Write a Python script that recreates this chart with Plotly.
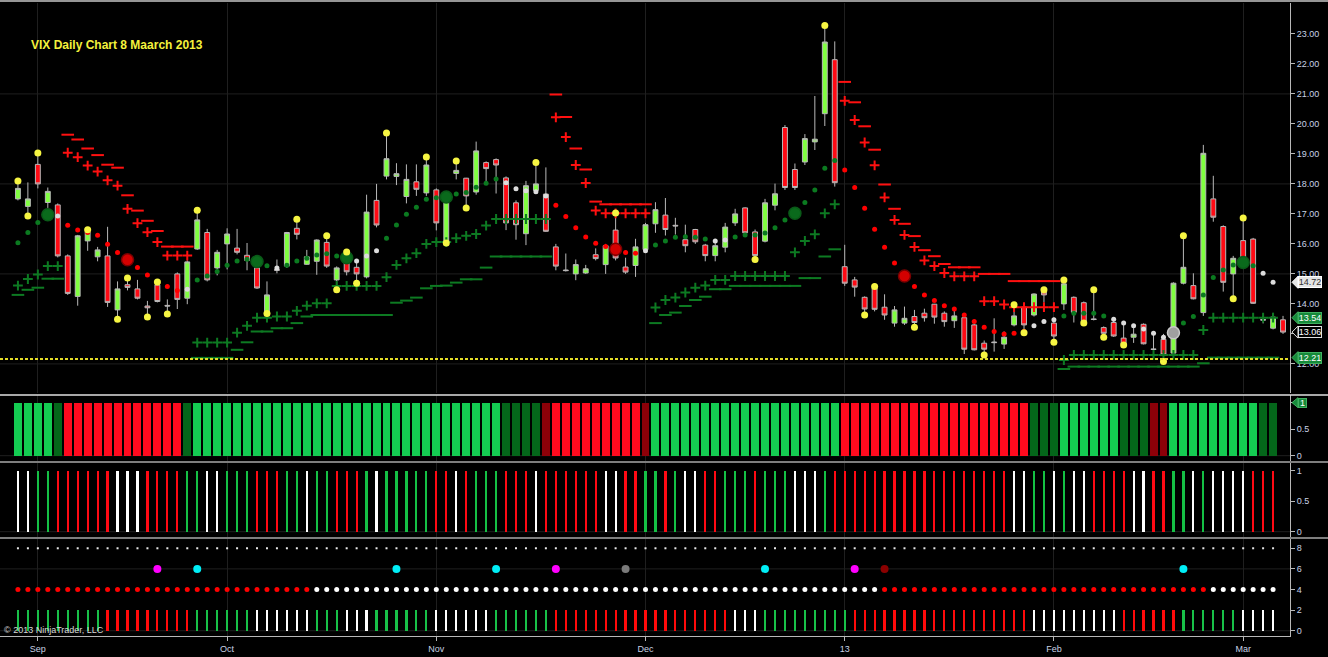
import plotly.graph_objects as go

N = None

# ---------------- axis / text data ----------------
tick_idx = [2, 21, 42, 63, 83, 104, 123]
tick_text = ["Sep", "Oct", "Nov", "Dec", "13", "Feb", "Mar"]
price_ticks = [12, 13, 14, 15, 16, 17, 18, 19, 20, 21, 22, 23]
price_tick_text = ["12.00", "13.00", "14.00", "15.00", "16.00", "17.00",
                   "18.00", "19.00", "20.00", "21.00", "22.00", "23.00"]
price_grid = [12, 15, 18, 21]
title_text = "VIX Daily Chart 8 Maarch 2013"
copyright_text = "© 2013 NinjaTrader, LLC"
support_level = 12.16

# ---------------- candles (128 bars) ----------------
open_ = [17.5, 17.25, 18.65, 17.38, 17.3, 15.6, 14.25, 16.1, 15.57, 15.6,
         13.8, 14.64, 14.5, 13.93, 14.63, 13.95, 15.0, 14.19, 15.83, 16.38,
         15.2, 16.0, 15.86, 15.62, 15.2, 13.68, 15.15, 15.26, 16.52, 15.32,
         15.42, 16.05, 14.8, 15.45, 15.22, 14.9, 17.45, 18.26, 18.25, 17.58,
         18.07, 17.7, 17.8, 16.09, 18.35, 18.19, 17.73, 18.71, 18.81, 18.2,
         17.37, 16.34, 17.78, 17.66, 15.9, 15.13, 15.0, 15.03, 15.64, 15.31,
         16.46, 15.23, 15.28, 15.81, 16.67, 16.96, 16.62, 16.14, 16.48, 15.96,
         15.61, 15.89, 16.7, 17.2, 16.4, 16.09, 17.29, 19.88, 18.48, 18.73,
         19.4, 20.34, 22.14, 15.24, 14.8, 14.22, 14.52, 13.89, 13.36, 13.36,
         13.58, 13.69, 13.99, 13.69, 13.44, 13.54, 13.3, 12.69, 12.73, 12.66,
         13.3, 13.89, 13.63, 14.41, 13.36, 14.0, 14.22, 14.04, 13.5, 13.21,
         13.38, 12.86, 12.89, 13.32, 12.5, 12.82, 12.36, 14.69, 14.61, 13.71,
         17.5, 16.58, 15.0, 16.11, 16.16, 13.48, 13.19, 13.47]
high = [18.05, 18.05, 19.0, 17.88, 17.35, 15.65, 16.3, 16.47, 15.9, 16.57,
        14.75, 14.85, 14.8, 14.1, 14.73, 14.15, 15.05, 15.45, 17.1, 16.5,
        15.8, 16.52, 16.5, 16.03, 15.25, 14.75, 15.48, 16.4, 16.82, 15.8,
        16.15, 16.25, 15.25, 15.75, 15.4, 17.64, 18.0, 19.7, 18.69, 18.65,
        18.65, 18.9, 17.85, 17.55, 18.76, 18.2, 19.41, 18.75, 18.85, 18.25,
        17.45, 18.1, 18.7, 18.55, 16.0, 15.68, 15.48, 15.3, 15.85, 16.0,
        17.11, 15.54, 16.17, 16.7, 17.39, 17.53, 16.87, 16.64, 16.5, 16.0,
        16.1, 16.7, 17.17, 17.22, 16.48, 17.5, 18.01, 19.96, 18.68, 19.66,
        20.93, 23.28, 22.75, 15.97, 14.9, 14.25, 14.58, 14.32, 13.93, 13.91,
        13.8, 13.84, 14.0, 13.75, 13.89, 13.67, 13.47, 12.78, 13.52, 13.08,
        13.95, 13.93, 14.35, 14.47, 13.55, 14.8, 14.25, 14.08, 14.45, 13.25,
        13.45, 13.3, 13.3, 13.35, 13.08, 13.0, 14.72, 16.27, 15.02, 19.3,
        18.27, 16.62, 15.6, 16.86, 16.2, 13.6, 13.7, 13.6]
low = [17.45, 16.93, 17.85, 17.2, 15.55, 14.3, 13.94, 15.77, 15.42, 13.9,
       13.49, 14.45, 14.15, 13.56, 14.05, 13.66, 13.83, 13.99, 15.8, 14.75,
       14.95, 15.15, 15.65, 15.12, 14.5, 13.62, 15.02, 15.2, 16.15, 15.3,
       14.97, 15.2, 14.47, 14.95, 14.69, 14.85, 16.55, 18.15, 17.96, 17.35,
       17.6, 17.6, 16.45, 16.03, 18.15, 17.2, 17.64, 18.0, 17.68, 16.46,
       16.14, 15.96, 17.7, 16.4, 15.12, 15.08, 14.79, 15.0, 15.45, 15.0,
       15.45, 15.0, 14.9, 15.75, 16.37, 16.28, 16.31, 15.72, 16.0, 15.42,
       15.42, 15.72, 16.6, 16.33, 15.48, 16.05, 17.12, 17.8, 17.8, 18.63,
       19.13, 19.93, 17.91, 14.6, 14.24, 13.63, 13.75, 13.47, 13.24, 13.3,
       13.22, 13.41, 13.34, 13.24, 13.2, 12.33, 12.45, 12.3, 12.41, 12.5,
       13.25, 13.04, 13.58, 14.05, 12.72, 13.8, 13.38, 13.36, 13.45, 12.89,
       12.9, 12.63, 12.7, 12.65, 12.42, 12.08, 12.3, 14.65, 14.15, 13.6,
       16.74, 14.41, 14.17, 15.4, 14.0, 13.35, 13.15, 13.0]
close = [17.85, 17.5, 18.0, 17.75, 15.6, 14.35, 16.27, 16.4, 15.8, 14.05,
         14.5, 14.55, 14.19, 13.87, 14.08, 13.93, 14.15, 15.4, 16.8, 14.8,
         15.72, 16.33, 15.72, 15.45, 14.53, 14.3, 15.12, 16.38, 16.32, 15.57,
         16.13, 15.26, 15.2, 15.07, 15.0, 17.06, 16.63, 18.84, 18.34, 18.15,
         17.82, 18.63, 16.7, 17.48, 18.45, 17.6, 19.1, 18.51, 18.63, 16.7,
         16.64, 17.94, 18.0, 16.42, 15.26, 15.11, 15.31, 15.17, 15.51, 15.94,
         15.53, 15.06, 15.9, 16.64, 17.14, 16.48, 16.6, 15.94, 16.07, 15.61,
         15.94, 16.56, 17.0, 16.37, 15.61, 17.37, 17.67, 17.88, 17.88, 19.51,
         19.49, 22.73, 18.04, 14.69, 14.56, 13.83, 13.82, 13.63, 13.8, 13.52,
         13.38, 13.54, 13.56, 13.41, 13.6, 12.49, 12.47, 12.49, 12.71, 12.89,
         13.6, 13.3, 14.33, 14.3, 12.93, 14.67, 13.72, 13.41, 13.48, 13.02,
         12.93, 12.66, 12.99, 12.67, 12.48, 12.3, 14.69, 15.22, 14.17, 19.02,
         16.89, 14.72, 15.52, 15.47, 14.02, 13.46, 13.56, 13.06]

# ---------------- trend dots (127 bars) ----------------
dot_val = [16.04, 16.38, 16.71, 16.97, 16.93, 16.62, 16.46, 16.38, 16.29, 15.99,
           15.71, 15.47, 15.21, 14.96, 14.74, 14.58, 14.45, 14.49, 14.8, 14.93,
           15.08, 15.29, 15.43, 15.49, 15.41, 15.27, 15.2, 15.29, 15.43, 15.52,
           15.63, 15.67, 15.6, 15.54, 15.43, 15.6, 15.77, 16.19, 16.63, 16.99,
           17.22, 17.49, 17.54, 17.56, 17.66, 17.71, 17.89, 18.02, 18.16, 18.04,
           17.84, 17.77, 17.74, 17.6, 17.29, 16.91, 16.54, 16.23, 16.02, 15.91,
           15.82, 15.71, 15.69, 15.77, 15.96, 16.1, 16.22, 16.24, 16.22, 16.16,
           16.1, 16.13, 16.23, 16.3, 16.3, 16.36, 16.54, 16.8, 17.02, 17.38,
           17.8, 18.52, 18.78, 18.46, 17.88, 17.19, 16.49, 15.89, 15.36, 14.93,
           14.58, 14.3, 14.11, 13.94, 13.83, 13.63, 13.41, 13.22, 13.08, 13.0,
           13.02, 13.08, 13.27, 13.41, 13.47, 13.6, 13.69, 13.69, 13.69, 13.6,
           13.49, 13.36, 13.27, 13.16, 13.02, 12.89, 13.04, 13.36, 13.58, 14.3,
           14.88, 15.13, 15.3, 15.38, 15.27, 15.02, 14.72]
dot_state = list("GGGGWRRRRR" "RRRRRRRWGG" "GGGGGGWGGG" "GGGGWWWGGG"
                 "GGGGGGGGGW" "WWWWRRRRRR" "RRRWGGGGGG" "WWGGGGGGGG"
                 "GGGRRRRRRR" "RRRRRRRRRR" "RRWWWGGGGG" "WWWWWWSGGG"
                 "GGGGGWW")
big_dot_idx = [3, 11, 24, 33, 43, 60, 78, 89, 116, 123]

# ---------------- swing markers ----------------
yellow_idx = [0, 1, 2, 7, 10, 11, 13, 14, 15, 18, 25, 28, 31, 32, 33, 34, 37, 41,
              43, 44, 45, 52, 60, 74, 81, 85, 86, 90, 97, 100, 101, 103, 104, 105,
              107, 108, 109, 111, 115, 117, 122, 123]
yellow_val = [18.1, 16.93, 19.03, 16.47, 13.49, 14.86, 13.56, 14.73, 13.66, 17.12,
              13.68, 16.82, 16.27, 14.47, 15.73, 14.69, 19.7, 18.9, 16.03, 18.76,
              17.2, 18.71, 17.03, 15.48, 23.28, 13.63, 14.58, 13.22, 12.3, 13.97,
              13.04, 14.47, 12.72, 14.8, 13.36, 14.47, 12.89, 12.63, 12.08, 16.27,
              14.17, 16.86]

# ---------------- stop levels (127 bars) ----------------
up_plus = [N, N, N, N, N, 19.04, 18.89, 18.61, 18.41, 18.12,
           17.94, 17.17, 16.69, 16.39, 16.06, 15.61, 15.61, 15.61, N, N,
           N, N, N, N, N, N, N, N, N, N,
           N, N, N, N, N, N, N, N, N, N,
           N, N, N, N, N, N, N, N, N, N,
           N, N, N, N, 20.22, 19.56, 18.63, 18.03, 17.11, 17.02,
           17.02, 17.02, 17.02, 17.02, N, N, N, N, N, N,
           N, N, N, N, N, N, N, N, N, N,
           N, N, N, 20.77, 20.13, 19.38, 18.62, 17.55, 16.8, 16.3,
           15.9, 15.45, 15.26, 15.03, 14.92, 14.92, 14.92, 14.09, 14.09, 13.98,
           13.89, 13.89, 13.89, 13.89, 13.89, N, N, N, N, N,
           N, N, N, N, N, N, N, N, N, N,
           N, N, N, N, N, N, N]
up_dash = [N, N, N, N, N, 19.64, 19.48, 19.18, 18.96, 18.64,
           18.54, 17.62, 17.11, 16.77, 16.43, 15.91, 15.91, 15.91, N, N,
           N, N, N, N, N, N, N, N, N, N,
           N, N, N, N, N, N, N, N, N, N,
           N, N, N, N, N, N, N, N, N, N,
           N, N, N, N, 20.98, 20.23, 19.18, 18.48, 17.41, 17.32,
           17.32, 17.32, 17.32, 17.32, N, N, N, N, N, N,
           N, N, N, N, N, N, N, N, N, N,
           N, N, N, 21.4, 20.72, 19.92, 19.14, 17.98, 17.17, 16.67,
           16.26, 15.79, 15.59, 15.33, 15.22, 15.22, 15.22, 15.0, 15.0, 15.0,
           14.76, 14.76, 14.76, 14.76, 14.76, N, N, N, N, N,
           N, N, N, N, N, N, N, N, N, N,
           N, N, N, N, N, N, N]
low_plus = [14.61, 14.83, 14.98, 15.26, 15.26, N, N, N, N, N,
            N, N, N, N, N, N, N, N, 12.71, 12.71,
            12.71, 12.71, 13.04, 13.27, 13.54, 13.54, 13.58, 13.58, 13.77, 13.94,
            14.02, 14.02, 14.6, 14.6, 14.6, 14.6, 14.6, 14.89, 15.3, 15.52,
            15.69, 16.0, 16.06, 16.06, 16.19, 16.27, 16.33, 16.61, 16.83, 16.83,
            16.83, 16.83, 16.83, 16.83, N, N, N, N, N, N,
            N, N, N, N, 13.88, 14.13, 14.21, 14.38, 14.54, 14.61,
            14.8, 14.8, 14.93, 14.93, 14.93, 14.93, 14.93, 14.93, 15.72, 16.1,
            16.32, 17.02, 17.32, N, N, N, N, N, N, N,
            N, N, N, N, N, N, N, N, N, N,
            N, N, N, N, N, 12.13, 12.3, 12.3, 12.3, 12.3,
            12.3, 12.3, 12.3, 12.3, 12.3, 12.3, 12.3, 12.3, 12.3, 13.13,
            13.54, 13.54, 13.54, 13.54, 13.54, 13.54, 13.54]
low_dash = [14.3, 14.47, 14.54, 14.84, 14.84, N, N, N, N, N,
            N, N, N, N, N, N, N, N, 12.2, 12.2,
            12.2, 12.2, 12.47, 12.72, 13.08, 13.08, 13.19, 13.19, 13.36, 13.58,
            13.63, 13.63, 13.63, 13.63, 13.63, 13.63, 13.63, 13.63, 14.04, 14.11,
            14.21, 14.52, 14.6, 14.61, 14.71, 14.82, 14.82, 15.21, 15.58, 15.58,
            15.58, 15.58, 15.58, 15.58, N, N, N, N, N, N,
            N, N, N, N, 13.36, 13.63, 13.71, 13.93, 14.13, 14.24,
            14.49, 14.49, 14.6, 14.6, 14.6, 14.6, 14.6, 14.6, 14.6, 14.86,
            14.86, 15.58, 15.82, N, N, N, N, N, N, N,
            N, N, N, N, N, N, N, N, N, N,
            N, N, N, N, N, 11.83, 11.91, 11.91, 11.91, 11.91,
            11.91, 11.91, 11.91, 11.91, 11.91, 11.91, 11.91, 11.91, 11.91, 12.02,
            12.21, 12.21, 12.21, 12.21, 12.21, 12.21, 12.21]

# ---------------- lower panels (127 bars) ----------------
hist_state = list("GGGGD" "RRRRRRRRRRRR" "D" "GGGGGGGGGGGGGGGGGGGGGGGGGGGGGGG"
                  "DDDD" "K" "RRRRRRRRR" "K" "GGGGGGGGGGGGGGGGGGG"
                  "RRRRRRRRRRRRRRRRRRR" "DDD" "GGGGGG" "DDD" "KK" "GGGGGGGGG" "DD")
vol_state = list("WWGGRRRRRR" "WWWRRRRGGW" "WGGGRRRGGW" "GGRRRGWGGG"
                 "GGRRWRGGGR" "RRWRRRRRRW" "WRRGGRGWWR" "RGGGRGGGWW"
                 "WGRRRRRRRR" "RRRRRRRRRR" "WWGGWGWWRR" "RRWWRRGGWG" "WWWWRRR")
low_bar_state = list("GGGGGGGGGR" "RRRRRRRRGG" "GGGGWWWWWW" "GGGWWWGGGG"
                     "GGWWWWWWGG" "GGGGRRRRRR" "RRRRRRRRRR" "RRWWWGGGGG"
                     "GGGGRRRRRR" "RRRRRRRRRR" "RRWWWWWWWW" "WRRRRRRGGG" "GGGWWWW")
mid_dot_state = list("RRRRRRRRRR" "RRRRRRRRRR" "RRRRRRRRRR" "WWWWWWWWWW"
                     "WWWWWWWWWW" "WWWWWWWWWW" "WWWWWWWWWW" "WWWWWWWWWW"
                     "WWWWWWWRRR" "RRRRRRRRRR" "RRRRRRRRRR" "RRRRRRRRRR" "WWWWWWW")
signal_idx = [14, 18, 38, 48, 54, 61, 75, 84, 87, 117]
signal_kind = ["M", "C", "C", "C", "M", "S", "C", "M", "K", "C"]

# ---------------- styling ----------------
BG = "#000000"
AXIS_TXT = "#c8d2e4"
FONT = "Liberation Sans, Arial, sans-serif"
GRID = "#1f1f1f"
XR = [-1.8, 127.7]

fig = go.Figure()
xc = list(range(len(close)))
xi = list(range(len(hist_state)))

fig.add_trace(go.Candlestick(
    x=xc, open=open_, high=high, low=low, close=close,
    increasing=dict(line=dict(color="#b8b8b8", width=1), fillcolor="#80ff40"),
    decreasing=dict(line=dict(color="#b8b8b8", width=1), fillcolor="#ff0a14"),
    whiskerwidth=0, showlegend=False, hoverinfo="skip", xaxis="x", yaxis="y"))


def mk(color, symbol, size, lw=0):
    return dict(color=color, symbol=symbol, size=size,
                line=dict(color=color, width=lw))


fig.add_trace(go.Scatter(x=xi, y=up_dash, mode="markers", marker=mk("#ff1010", "line-ew", 9, 2),
                         showlegend=False, hoverinfo="skip", xaxis="x", yaxis="y"))
fig.add_trace(go.Scatter(x=xi, y=up_plus, mode="markers", marker=mk("#ff1010", "cross-thin", 7, 2),
                         showlegend=False, hoverinfo="skip", xaxis="x", yaxis="y"))
fig.add_trace(go.Scatter(x=xi, y=low_dash, mode="markers", marker=mk("#0d7a22", "line-ew", 9, 2),
                         showlegend=False, hoverinfo="skip", xaxis="x", yaxis="y"))
fig.add_trace(go.Scatter(x=xi, y=low_plus, mode="markers", marker=mk("#0d7a22", "cross-thin", 7, 2),
                         showlegend=False, hoverinfo="skip", xaxis="x", yaxis="y"))

dot_colors = {"G": "#0b7a20", "R": "#ff0000", "W": "#dcdcdc", "S": "#a0a0a0"}
big_colors = {"G": "#0a6a1c", "R": "#d40000", "W": "#dcdcdc", "S": "#a0a0a0"}
big_lines = {"G": "#0a5a18", "R": "#7a0000", "W": "#ffffff", "S": "#c8c8c8"}
for code, col in dot_colors.items():
    xs = [i for i in xi if dot_state[i] == code and i not in big_dot_idx]
    ys = [dot_val[i] for i in xs]
    if xs:
        fig.add_trace(go.Scatter(x=xs, y=ys, mode="markers",
                                 marker=dict(color=col, size=5, line=dict(width=0)),
                                 showlegend=False, hoverinfo="skip", xaxis="x", yaxis="y"))
for i in big_dot_idx:
    c = dot_state[i]
    fig.add_trace(go.Scatter(x=[i], y=[dot_val[i]], mode="markers",
                             marker=dict(color=big_colors[c], size=12, line=dict(color=big_lines[c], width=1.5)),
                             showlegend=False, hoverinfo="skip", xaxis="x", yaxis="y"))

fig.add_trace(go.Scatter(x=yellow_idx, y=yellow_val, mode="markers",
                         marker=dict(color="#f6f542", size=7, line=dict(width=0)),
                         showlegend=False, hoverinfo="skip", xaxis="x", yaxis="y"))

# panel 2 histogram
hist_cols = {"G": "#14cc52", "D": "#04661a", "R": "#ff0a1e", "K": "#8c0008"}
fig.add_trace(go.Bar(x=xi, y=[1] * len(xi), base=0, width=0.8,
                     marker=dict(color=[hist_cols[s] for s in hist_state], line=dict(width=0)),
                     showlegend=False, hoverinfo="skip", xaxis="x2", yaxis="y2"))

# panel 3 thin bars
vol_cols = {"W": "#ffffff", "G": "#15c045", "R": "#ff0a14"}
fig.add_trace(go.Bar(x=xi, y=[1] * len(xi), base=0, width=0.22,
                     marker=dict(color=[vol_cols[s] for s in vol_state], line=dict(width=0)),
                     showlegend=False, hoverinfo="skip", xaxis="x3", yaxis="y3"))

# panel 4
lb_cols = {"W": "#ffffff", "G": "#18c048", "R": "#ff0a0a"}
fig.add_trace(go.Bar(x=xi, y=[2] * len(xi), base=0, width=0.22,
                     marker=dict(color=[lb_cols[s] for s in low_bar_state], line=dict(width=0)),
                     showlegend=False, hoverinfo="skip", xaxis="x4", yaxis="y4"))
md_cols = {"W": "#ffffff", "R": "#ff0000"}
fig.add_trace(go.Scatter(x=xi, y=[4] * len(xi), mode="markers",
                         marker=dict(color=[md_cols[s] for s in mid_dot_state], size=5, line=dict(width=0)),
                         showlegend=False, hoverinfo="skip", xaxis="x4", yaxis="y4"))
fig.add_trace(go.Scatter(x=xi, y=[8] * len(xi), mode="markers",
                         marker=dict(color="#e8e8e8", size=2, symbol="square", line=dict(width=0)),
                         showlegend=False, hoverinfo="skip", xaxis="x4", yaxis="y4"))
sig_cols = {"M": "#ff00ff", "C": "#00eef6", "S": "#7a7a7a", "K": "#8b0000"}
fig.add_trace(go.Scatter(x=signal_idx, y=[6] * len(signal_idx), mode="markers",
                         marker=dict(color=[sig_cols[k] for k in signal_kind], size=8, line=dict(width=0)),
                         showlegend=False, hoverinfo="skip", xaxis="x4", yaxis="y4"))

# ---------------- layout ----------------
H_PLOT = 633.0


def pfrac(px):
    return (636.0 - px) / H_PLOT


xbase = dict(range=XR, tickvals=tick_idx, showgrid=True, gridcolor=GRID, gridwidth=1,
             zeroline=False, showticklabels=False, ticks="", fixedrange=True)
ybase = dict(side="right", showline=True, linecolor="#b8b8b8", linewidth=1, ticks="outside",
             ticklen=4, tickcolor="#b8b8b8", tickfont=dict(color=AXIS_TXT, size=9, family=FONT),
             showgrid=False, zeroline=False, fixedrange=True)

layout = dict(
    width=1328, height=657, autosize=False,
    paper_bgcolor=BG, plot_bgcolor=BG,
    margin=dict(l=0, r=38, t=3, b=21),
    font=dict(family=FONT, color=AXIS_TXT, size=9),
    showlegend=False, hovermode=False, bargap=0,
    xaxis=dict(xbase, domain=[0, 1], anchor="y", rangeslider=dict(visible=False)),
    xaxis2=dict(xbase, domain=[0, 1], anchor="y2", matches="x"),
    xaxis3=dict(xbase, domain=[0, 1], anchor="y3", matches="x"),
    xaxis4=dict(xbase, domain=[0, 1], anchor="y4", matches="x", showticklabels=True,
                ticktext=tick_text, ticks="outside", ticklen=4, tickcolor="#b8b8b8",
                showline=True, linecolor="#b8b8b8", tickfont=dict(color=AXIS_TXT, size=9, family=FONT)),
    yaxis=dict(ybase, domain=[pfrac(393), 1], anchor="x", range=[11.03, 24.03],
               tickvals=price_ticks, ticktext=price_tick_text),
    yaxis2=dict(ybase, domain=[pfrac(461), pfrac(395)], anchor="x2", range=[-0.1, 1.144],
                tickvals=[0, 0.5, 1], ticktext=["0", "0.5", "1"]),
    yaxis3=dict(ybase, domain=[pfrac(537), pfrac(463)], anchor="x3", range=[-0.087, 1.126],
                tickvals=[0, 0.5, 1], ticktext=["0", "0.5", "1"]),
    yaxis4=dict(ybase, domain=[0, pfrac(539)], anchor="x4", range=[-0.51, 8.9],
                tickvals=[0, 2, 4, 6, 8], ticktext=["0", "2", "4", "6", "8"]),
)

shapes = []
for v in price_grid:
    shapes.append(dict(type="line", xref="paper", x0=0, x1=1, yref="y", y0=v, y1=v,
                       line=dict(color=GRID, width=1), layer="below"))
for yr, v in [("y2", 0), ("y3", 0), ("y4", 0), ("y4", 6)]:
    shapes.append(dict(type="line", xref="paper", x0=0, x1=1, yref=yr, y0=v, y1=v,
                       line=dict(color=GRID, width=1), layer="below"))
# support line
shapes.append(dict(type="line", xref="paper", x0=0, x1=1, yref="y", y0=support_level, y1=support_level,
                   line=dict(color="#e2dc28", width=2, dash="3px,2px"), layer="above"))
# panel separators
for px, col, w in [(1, "#c8c8c8", 1.5), (395, "#e0e0e0", 1.5), (462, "#a8a8a8", 1.5), (538, "#a8a8a8", 1.5)]:
    shapes.append(dict(type="line", xref="paper", x0=0, x1=1328 / 1290, yref="paper",
                       y0=pfrac(px), y1=pfrac(px), line=dict(color=col, width=w), layer="above"))

annotations = [
    dict(xref="x", x=1.1, yref="y", y=22.63, xanchor="left", yanchor="middle",
         text="<b>" + title_text + "</b>", showarrow=False,
         font=dict(color="#f4f23c", size=12, family=FONT)),
    dict(xref="paper", x=0.0015, yref="paper", y=pfrac(630), xanchor="left", yanchor="middle",
         text=copyright_text, showarrow=False, font=dict(color="#d8d8d8", size=9, family=FONT)),
]


def price_box(v, yref, ppu, fill, border, fcolor, text, w=22, h=10):
    half = (h / 2 + 1) / ppu
    x_tip = 1292 / 1290
    x_base = 1298 / 1290
    shapes.append(dict(type="path", xref="paper", yref=yref,
                       path=f"M {x_tip},{v} L {x_base},{v + half} L {x_base},{v - half} Z",
                       fillcolor=fill, line=dict(color=border, width=1), layer="above"))
    annotations.append(dict(xref="paper", x=x_base, xanchor="left", yref=yref, y=v, yanchor="middle",
                            text=text, showarrow=False, bgcolor=fill, bordercolor=border,
                            borderwidth=1, borderpad=0, width=w, height=h,
                            font=dict(color=fcolor, size=9, family=FONT)))


price_box(dot_val[-1], "y", 30.0, "#e4e4e4", "#ffffff", "#303030", f"{dot_val[-1]:.2f}")
price_box(low_plus[-1], "y", 30.0, "#168a3a", "#40b060", "#ffffff", f"{low_plus[-1]:.2f}")
price_box(close[-1], "y", 30.0, "#000000", "#e0e0e0", "#ffffff", f"{close[-1]:.2f}")
price_box(low_dash[-1], "y", 30.0, "#168a3a", "#40b060", "#ffffff", f"{low_dash[-1]:.2f}")
price_box(1, "y2", 53.3, "#168a3a", "#40b060", "#ffffff", "1", w=7, h=8)

layout["shapes"] = shapes
layout["annotations"] = annotations
fig.update_layout(**layout)

fig.write_html("out.html", config={"displayModeBar": False, "staticPlot": True},
               post_script="document.body.style.margin='0px';document.body.style.padding='0px';"
                           "document.body.style.background='#000000';")
